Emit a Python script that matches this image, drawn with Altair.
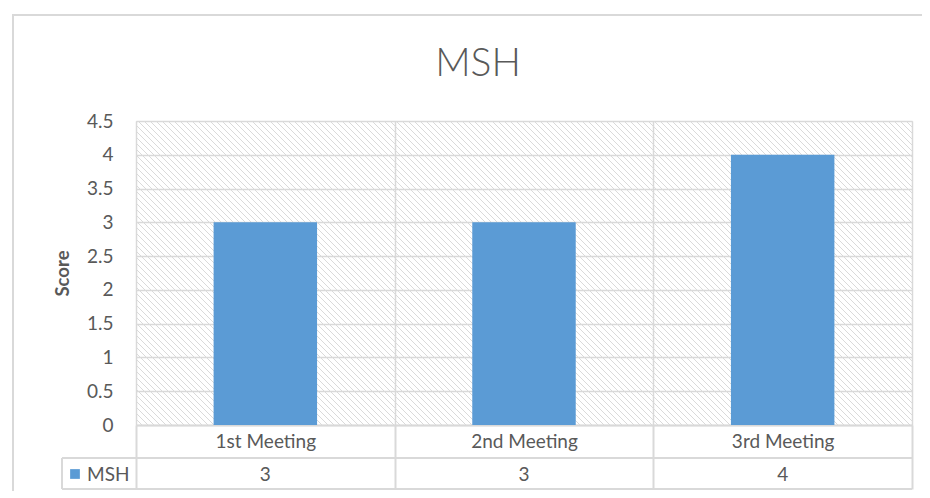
import altair as alt
import pandas as pd

# ---- data ----
categories = ["1st Meeting", "2nd Meeting", "3rd Meeting"]
scores = [3, 3, 4]
series_name = "MSH"
y_ticks = [0, 0.5, 1, 1.5, 2, 2.5, 3, 3.5, 4, 4.5]

df = pd.DataFrame({"cat": categories, "score": scores})

W, H = 776, 304
FONT = "Lato"
TXT = "#595959"
LINE = "#D9D9D9"
BAR = "#5B9BD5"
FS = 19

xscale = alt.Scale(domain=categories, paddingInner=0, paddingOuter=0)

# hatched plot background (decoration)
hatch = (
    alt.Chart(alt.sequence(-H, W + 6, 6, as_="s"))
    .transform_calculate(s2=f"datum.s + {H}", ya=f"{H}", yb="0")
    .mark_rule(clip=True, color="#DADADA", strokeWidth=1)
    .encode(
        x=alt.X("s:Q", scale=alt.Scale(domain=[0, W], nice=False, zero=False), axis=None),
        x2="s2:Q",
        y=alt.Y("ya:Q", scale=alt.Scale(domain=[0, H], nice=False), axis=None),
        y2="yb:Q",
    )
)

bars = (
    alt.Chart(df)
    .mark_bar(color=BAR, width=alt.RelativeBandSize(0.4))
    .encode(
        x=alt.X(
            "cat:N",
            sort=categories,
            scale=xscale,
            axis=alt.Axis(
                orient="bottom", title=None, labelAngle=0, tickBand="extent",
                ticks=True, tickSize=64, tickColor=LINE, tickWidth=2,
                domainColor=LINE, domainWidth=2,
                grid=True, gridColor=LINE, gridWidth=1.5,
                labelPadding=-48, labelBaseline="middle",
                labelFont=FONT, labelFontSize=FS, labelColor=TXT,
            ),
        ),
        y=alt.Y(
            "score:Q",
            scale=alt.Scale(domain=[0, 4.5], nice=False),
            axis=alt.Axis(
                orient="left", values=y_ticks, format="~g", ticks=False, domain=False,
                grid=True, gridColor=LINE, gridWidth=1.5,
                labelPadding=23, labelFont=FONT, labelFontSize=FS, labelColor=TXT,
                title="Score", titleFont=FONT, titleFontSize=18.5, titleFontWeight="bold",
                titleColor=TXT, titleX=-74, titleY=152, titleAngle=270,
                titleAlign="center", titleBaseline="middle",
            ),
        ),
    )
)

values_row = (
    alt.Chart(df)
    .mark_text(font=FONT, fontSize=FS, color=TXT, baseline="middle")
    .encode(
        x=alt.X("cat:N", sort=categories, scale=xscale),
        y=alt.value(354),
        text="score:Q",
    )
)

one = pd.DataFrame({"name": [series_name]})

legend_sq = alt.Chart(one).mark_square(color=BAR, opacity=1, size=95).encode(
    x=alt.value(-61), y=alt.value(353)
)
legend_tx = alt.Chart(one).mark_text(
    font=FONT, fontSize=FS, color=TXT, align="left", baseline="middle"
).encode(x=alt.value(-49), y=alt.value(354), text="name:N")

rule_style = dict(color=LINE, strokeWidth=2)
row_line1 = alt.Chart(one).mark_rule(**rule_style).encode(
    x=alt.value(-74), x2=alt.value(W), y=alt.value(337)
)
row_line2 = alt.Chart(one).mark_rule(**rule_style).encode(
    x=alt.value(-74), x2=alt.value(W), y=alt.value(368)
)
row_left = alt.Chart(one).mark_rule(**rule_style).encode(
    x=alt.value(-74), y=alt.value(337), y2=alt.value(368)
)
border_top = alt.Chart(one).mark_rule(**rule_style).encode(
    x=alt.value(-123), x2=alt.value(W + 40), y=alt.value(-106)
)
border_left = alt.Chart(one).mark_rule(**rule_style).encode(
    x=alt.value(-123), y=alt.value(-107), y2=alt.value(H + 80)
)

title = alt.Chart(one).mark_text(
    font=FONT, fontSize=39, fontWeight=300, color=TXT, align="center", baseline="alphabetic"
).encode(x=alt.value(342), y=alt.value(-45), text="name:N")

main = alt.layer(bars, values_row)

chart = (
    alt.layer(
        hatch, main, legend_sq, legend_tx, row_line1, row_line2, row_left,
        border_top, border_left, title,
    )
    .resolve_scale(x="independent", y="independent")
    .properties(
        width=W, height=H,
        padding={"left": 128, "top": 113, "right": 10, "bottom": 66},
        autosize=alt.AutoSizeParams(type="none"),
    )
    .configure_view(stroke=None)
    .configure(background="white")
)

chart.save("out.html", embed_options={"renderer": "svg", "actions": False})
